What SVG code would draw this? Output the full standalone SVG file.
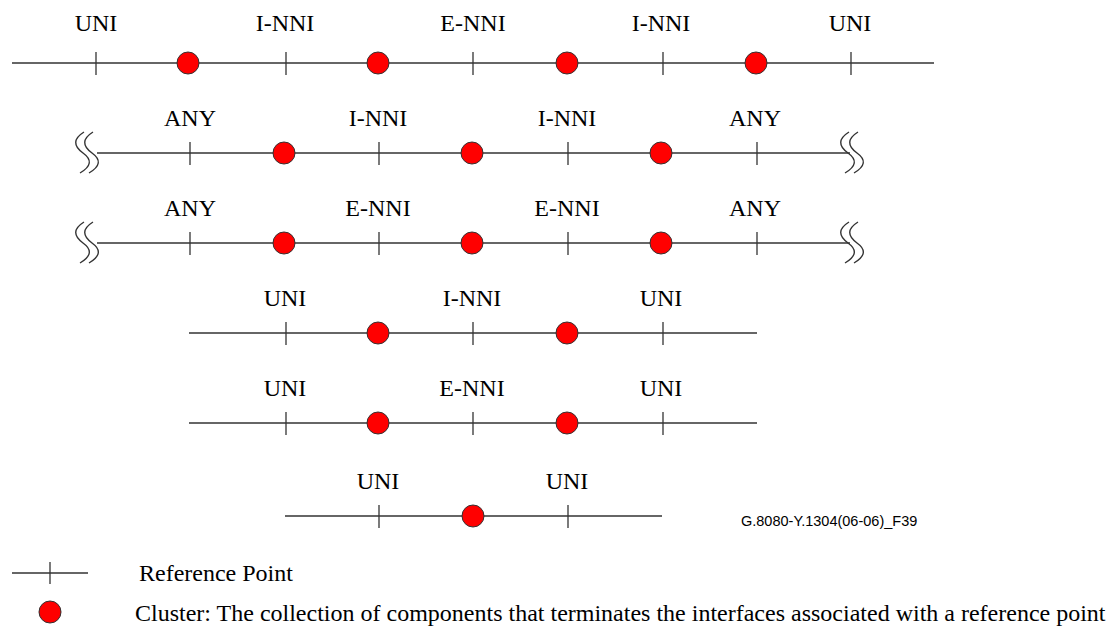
<svg xmlns="http://www.w3.org/2000/svg" width="1113" height="628" viewBox="0 0 1113 628">
<style>
.ln{stroke:#333;stroke-width:1.3;fill:none}
.tk{stroke:#333;stroke-width:1.3}
.cl{fill:#ff0000;stroke:#333;stroke-width:1}
.lb{font-family:"Liberation Serif",serif;font-size:24px;fill:#000;text-anchor:middle}
.lg{font-family:"Liberation Serif",serif;font-size:24px;fill:#000}
.fg{font-family:"Liberation Sans",sans-serif;font-size:14.5px;fill:#000}
.br{stroke:#333;stroke-width:1.4;fill:none}
</style>
<defs>
<path id="brk" d="M 0 0 Q -16 10 -1 21 Q 13 31 -4 41"/>
</defs>
<g id="connectors">
<line class="ln" x1="12" y1="63" x2="934" y2="63"/>
<line class="ln" x1="97" y1="153" x2="850" y2="153"/>
<line class="ln" x1="97" y1="243" x2="850" y2="243"/>
<line class="ln" x1="189" y1="333" x2="757" y2="333"/>
<line class="ln" x1="189" y1="423" x2="757" y2="423"/>
<line class="ln" x1="285" y1="516" x2="662" y2="516"/>
<g class="br">
<use href="#brk" x="84" y="132"/><use href="#brk" x="93" y="132"/>
<use href="#brk" x="849" y="132"/><use href="#brk" x="858" y="132"/>
<use href="#brk" x="84" y="222"/><use href="#brk" x="93" y="222"/>
<use href="#brk" x="849" y="222"/><use href="#brk" x="858" y="222"/>
</g>
</g>
<g id="row1">
<line class="tk" x1="96" y1="52" x2="96" y2="75"/>
<line class="tk" x1="286" y1="52" x2="286" y2="75"/>
<line class="tk" x1="473" y1="52" x2="473" y2="75"/>
<line class="tk" x1="663" y1="52" x2="663" y2="75"/>
<line class="tk" x1="851" y1="52" x2="851" y2="75"/>
<circle class="cl" cx="188" cy="63" r="11"/>
<circle class="cl" cx="378" cy="63" r="11"/>
<circle class="cl" cx="567" cy="63" r="11"/>
<circle class="cl" cx="756" cy="63" r="11"/>
<text class="lb" x="96" y="31">UNI</text>
<text class="lb" x="285" y="31">I-NNI</text>
<text class="lb" x="473" y="31">E-NNI</text>
<text class="lb" x="661" y="31">I-NNI</text>
<text class="lb" x="850" y="31">UNI</text>
</g>
<g id="row2">
<line class="tk" x1="190" y1="142" x2="190" y2="165"/>
<line class="tk" x1="379" y1="142" x2="379" y2="165"/>
<line class="tk" x1="568" y1="142" x2="568" y2="165"/>
<line class="tk" x1="757" y1="142" x2="757" y2="165"/>
<circle class="cl" cx="284" cy="153" r="11"/>
<circle class="cl" cx="472" cy="153" r="11"/>
<circle class="cl" cx="661" cy="153" r="11"/>
<text class="lb" x="190" y="126">ANY</text>
<text class="lb" x="378" y="126">I-NNI</text>
<text class="lb" x="567" y="126">I-NNI</text>
<text class="lb" x="755" y="126">ANY</text>
</g>
<g id="row3">
<line class="tk" x1="190" y1="232" x2="190" y2="255"/>
<line class="tk" x1="379" y1="232" x2="379" y2="255"/>
<line class="tk" x1="568" y1="232" x2="568" y2="255"/>
<line class="tk" x1="757" y1="232" x2="757" y2="255"/>
<circle class="cl" cx="284" cy="243" r="11"/>
<circle class="cl" cx="472" cy="243" r="11"/>
<circle class="cl" cx="661" cy="243" r="11"/>
<text class="lb" x="190" y="216">ANY</text>
<text class="lb" x="378" y="216">E-NNI</text>
<text class="lb" x="567" y="216">E-NNI</text>
<text class="lb" x="755" y="216">ANY</text>
</g>
<g id="row4">
<line class="tk" x1="286" y1="322" x2="286" y2="345"/>
<line class="tk" x1="473" y1="322" x2="473" y2="345"/>
<line class="tk" x1="663" y1="322" x2="663" y2="345"/>
<circle class="cl" cx="378" cy="333" r="11"/>
<circle class="cl" cx="567" cy="333" r="11"/>
<text class="lb" x="285" y="306">UNI</text>
<text class="lb" x="472" y="306">I-NNI</text>
<text class="lb" x="661" y="306">UNI</text>
</g>
<g id="row5">
<line class="tk" x1="286" y1="412" x2="286" y2="435"/>
<line class="tk" x1="473" y1="412" x2="473" y2="435"/>
<line class="tk" x1="663" y1="412" x2="663" y2="435"/>
<circle class="cl" cx="378" cy="423" r="11"/>
<circle class="cl" cx="567" cy="423" r="11"/>
<text class="lb" x="285" y="396">UNI</text>
<text class="lb" x="472" y="396">E-NNI</text>
<text class="lb" x="661" y="396">UNI</text>
</g>
<g id="row6">
<line class="tk" x1="379" y1="505" x2="379" y2="528"/>
<line class="tk" x1="568" y1="505" x2="568" y2="528"/>
<circle class="cl" cx="473" cy="516" r="11"/>
<text class="lb" x="378" y="489">UNI</text>
<text class="lb" x="567" y="489">UNI</text>
</g>
<text class="fg" x="741" y="526">G.8080-Y.1304(06-06)_F39</text>
<g id="legend">
<line class="ln" x1="12" y1="573" x2="88" y2="573"/>
<line class="tk" x1="50" y1="562" x2="50" y2="584"/>
<text class="lg" x="139" y="581">Reference Point</text>
<circle class="cl" cx="50" cy="612" r="11"/>
<text class="lg" x="135" y="621">Cluster: The collection of components that terminates the interfaces associated with a reference point</text>
</g>
</svg>
